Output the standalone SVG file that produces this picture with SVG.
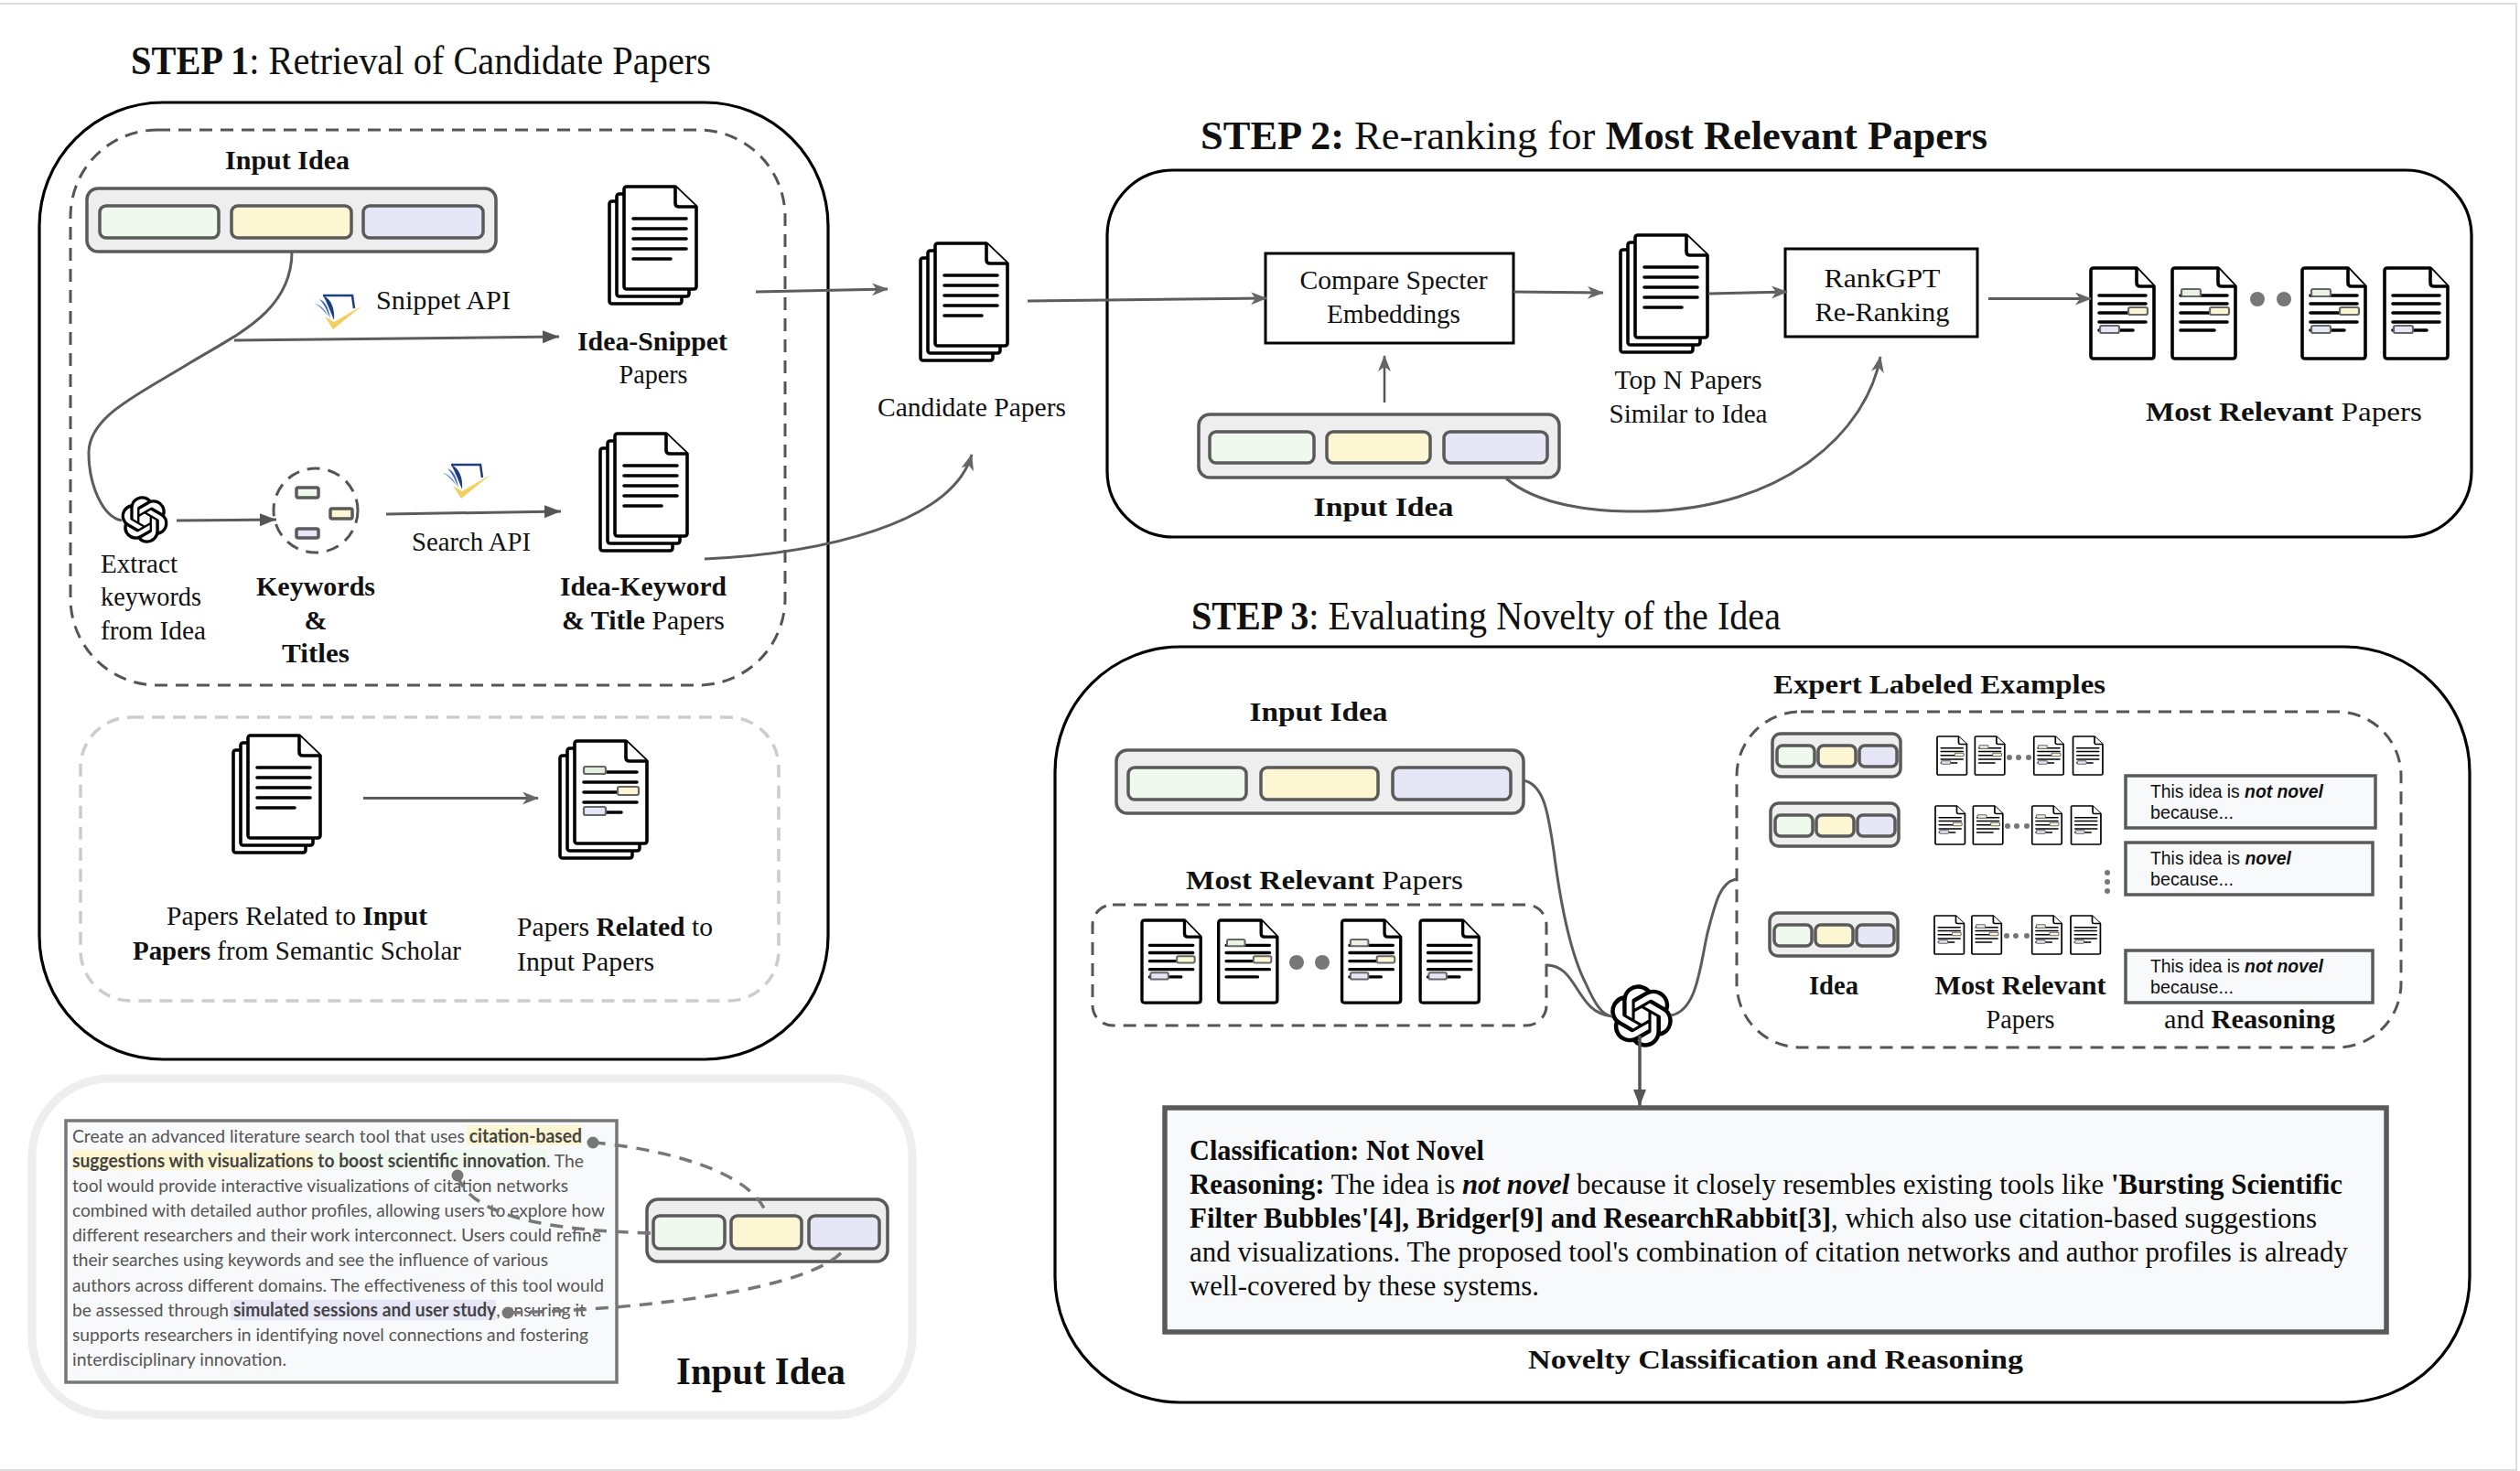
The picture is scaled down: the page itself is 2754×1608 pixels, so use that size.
<svg xmlns="http://www.w3.org/2000/svg" width="2754" height="1608" viewBox="0 0 2754 1608">
<style>
text{font-family:"Liberation Serif","Times New Roman",serif;fill:#111}
.l{font-size:30px}
.b{font-weight:bold}
.h{font-size:44px}
.t{font-size:31px;fill:#0c0c0c}
.sans{font-family:"Liberation Sans",Arial,sans-serif;font-size:19.5px;fill:#111}
.lato{font-family:Lato,"Open Sans",sans-serif;font-size:20px;fill:#555}
.lato .k{font-weight:bold;fill:#444}
.panel{fill:#fff;stroke:#000;stroke-width:3.2}
.dash{fill:none;stroke:#555;stroke-width:3;stroke-dasharray:14 9}
.dashl{fill:none;stroke:#ccc;stroke-width:3.5;stroke-dasharray:14 9}
.bar{fill:#eee;stroke:#5a5a5a;stroke-width:3.5}
.g{fill:#f0f9ee;stroke:#5a5a5a;stroke-width:3.5}
.y{fill:#fcf6d2;stroke:#5a5a5a;stroke-width:3.5}
.v{fill:#e6e6f7;stroke:#5a5a5a;stroke-width:3.5}
.box{fill:#fff;stroke:#000;stroke-width:3}
.note{fill:#f8f9fa;stroke:#5a5a5a;stroke-width:3.5}
.page{fill:#fff;stroke:#000;stroke-width:3.6;stroke-linejoin:round}
.ln{stroke:#000;stroke-width:3.6;stroke-linecap:round;fill:none}
.tag{stroke:#666;stroke-width:2.2}
.dot{fill:#777}
.c{fill:none;stroke:#5c5c5c;stroke-width:3}
.c2{fill:none;stroke:#555;stroke-width:2.5}
.cd{fill:none;stroke:#777;stroke-width:3.5;stroke-dasharray:14 10}
</style>
<defs>
<marker id="tri" markerUnits="userSpaceOnUse" markerWidth="20" markerHeight="16" refX="18" refY="7" orient="auto"><path d="M0 0L18 7L0 14Z" fill="#555"/></marker>
<marker id="st" markerUnits="userSpaceOnUse" markerWidth="20" markerHeight="16" refX="17" refY="7" orient="auto"><path d="M0 0L18 7L0 14L5 7Z" fill="#666"/></marker>
<g id="sheet"><path class="page" d="M3 0H56L79 22V109Q79 112 76 112H3Q0 112 0 109V3Q0 0 3 0Z"/><path class="page" fill="none" d="M56 0V18Q56 22 60 22H79"/></g>
<g id="lines"><path class="ln" d="M10 35H68M10 46H68M10 57H68M10 68H68M10 79H51"/></g>
<g id="stack-back"><use href="#sheet" x="-16" y="16"/><use href="#sheet" x="-8" y="8"/><use href="#sheet"/></g>
<g id="stack"><use href="#stack-back"/><use href="#lines"/></g>
<g id="stack-tagged"><use href="#stack-back"/><path class="ln" d="M34 34H68M10 45H68M10 56H47M10 67H68M34 78H51"/>
<rect class="tag" x="10" y="28" width="24" height="8" rx="2" fill="#e2efdc"/><rect class="tag" x="47" y="50" width="23" height="9" rx="2" fill="#fcf6d2"/><rect class="tag" x="10" y="72" width="24" height="9" rx="2" fill="#e6e6f7"/></g>
<g id="one"><path class="page" d="M3 0H50L69 20V96Q69 99 66 99H3Q0 99 0 96V3Q0 0 3 0Z"/><path class="page" fill="none" d="M50 0V16Q50 20 54 20H69"/></g>
<rect id="tg" class="tag" x="10" y="-4" width="21" height="8" rx="2" fill="#e8f3e2"/>
<rect id="ty" class="tag" x="41" y="-4" width="21" height="8" rx="2" fill="#fcf6d2"/>
<rect id="tv" class="tag" x="10" y="-4" width="21" height="8" rx="2" fill="#e6e6f7"/>
<g id="docA"><use href="#one"/><path class="ln" d="M9 30H60M9 39H60M9 49H42M9 59H60M9 68H46"/><use href="#ty" y="47"/><use href="#tv" y="67"/></g>
<g id="docB"><use href="#one"/><path class="ln" d="M9 30H60M9 39H60M9 49H42M9 59H60M9 68H46"/><use href="#tg" y="27"/><use href="#ty" y="47"/></g>
<g id="docC"><use href="#one"/><path class="ln" d="M9 30H60M9 39H60M9 49H42M9 59H60M9 68H46"/><use href="#tg" y="27"/><use href="#ty" y="47"/><use href="#tv" y="67"/></g>
<g id="docD"><use href="#one"/><path class="ln" d="M9 30H60M9 39H60M9 49H60M9 59H60M9 68H46"/><use href="#tv" y="67"/></g>
<g id="minibar"><rect class="bar" x="0" y="0" width="140" height="47" rx="9"/><rect class="g" x="5" y="13" width="41" height="23" rx="6"/><rect class="y" x="50" y="13" width="41" height="23" rx="6"/><rect class="v" x="95" y="13" width="41" height="23" rx="6"/></g>
<path id="gpt" transform="translate(-12 -12)" fill="#000" d="M22.2819 9.8211a5.9847 5.9847 0 0 0-.5157-4.9108 6.0462 6.0462 0 0 0-6.5098-2.9A6.0651 6.0651 0 0 0 4.9807 4.1818a5.9847 5.9847 0 0 0-3.9977 2.9 6.0462 6.0462 0 0 0 .7427 7.0966 5.98 5.98 0 0 0 .511 4.9107 6.051 6.051 0 0 0 6.5146 2.9001A5.9847 5.9847 0 0 0 13.2599 24a6.0557 6.0557 0 0 0 5.7718-4.2058 5.9894 5.9894 0 0 0 3.9977-2.9001 6.0557 6.0557 0 0 0-.7475-7.0729zm-9.022 12.6081a4.4755 4.4755 0 0 1-2.8764-1.0408l.1419-.0804 4.7783-2.7582a.7948.7948 0 0 0 .3927-.6813v-6.7369l2.02 1.1686a.071.071 0 0 1 .038.052v5.5826a4.504 4.504 0 0 1-4.4945 4.4944zm-9.6607-4.1254a4.4708 4.4708 0 0 1-.5346-3.0137l.142.0852 4.783 2.7582a.7712.7712 0 0 0 .7806 0l5.8428-3.3685v2.3324a.0804.0804 0 0 1-.0332.0615L9.74 19.9502a4.4992 4.4992 0 0 1-6.1408-1.6464zM2.3408 7.8956a4.485 4.485 0 0 1 2.3655-1.9728V11.6a.7664.7664 0 0 0 .3879.6765l5.8144 3.3543-2.0201 1.1685a.0757.0757 0 0 1-.071 0l-4.8303-2.7865A4.504 4.504 0 0 1 2.3408 7.872zm16.5963 3.8558L13.1038 8.364 15.1192 7.2a.0757.0757 0 0 1 .071 0l4.8303 2.7913a4.4944 4.4944 0 0 1-.6765 8.1042v-5.6772a.79.79 0 0 0-.407-.667zm2.0107-3.0231l-.142-.0852-4.7735-2.7818a.7759.7759 0 0 0-.7854 0L9.409 9.2297V6.8974a.0662.0662 0 0 1 .0284-.0615l4.8303-2.7866a4.4992 4.4992 0 0 1 6.6802 4.66zM8.3065 12.863l-2.02-1.1638a.0804.0804 0 0 1-.038-.0567V6.0742a4.4992 4.4992 0 0 1 7.3757-3.4537l-.142.0805L8.704 5.459a.7948.7948 0 0 0-.3927.6813zm1.0976-2.3654l2.602-1.4998 2.6069 1.4998v2.9994l-2.5974 1.4997-2.6067-1.4997Z"/>
<g id="s2"><path d="M12 24L21 38L53 12L22 30Z" fill="#f2cf5e"/><path d="M10 1H42L44 15" fill="none" stroke="#1d3f7f" stroke-width="2.5"/><path d="M10 1C19 5 23 15 22 28C18 18 14 8 10 1Z" fill="#1d3f7f"/><path d="M6 5C12 7 16 14 18 26C14 17 11 10 6 5Z" fill="#3a6cc4"/><path d="M1 10C7 11 12 16 16 24C11 18 7 13 1 10Z" fill="#5b8fe0"/></g>
</defs>
<rect width="2754" height="1608" fill="#fff"/>
<path d="M0 4H2750V1607H0" fill="none" stroke="#ddd" stroke-width="2"/>

<g id="step1">
<text class="h" x="143" y="81" textLength="634" lengthAdjust="spacingAndGlyphs"><tspan class="b">STEP 1</tspan>: Retrieval of Candidate Papers</text>
<rect class="panel" x="43" y="112" width="862" height="1046" rx="135"/>
<rect class="dash" x="77" y="142" width="781" height="607" rx="95"/>
<rect class="dashl" x="88" y="784" width="763" height="310" rx="55"/>
</g>
<g id="step1-input-idea">
<text class="l b" x="314" y="185" text-anchor="middle" textLength="136" lengthAdjust="spacingAndGlyphs">Input Idea</text>
<rect class="bar" x="95" y="206" width="447" height="69" rx="12"/>
<rect class="g" x="109" y="225" width="130" height="35" rx="7"/><rect class="y" x="253" y="225" width="131" height="35" rx="7"/><rect class="v" x="397" y="225" width="131" height="35" rx="7"/>
</g>
<g id="snippet-api">
<use href="#s2" x="343" y="322"/>
<text class="l" x="411" y="338" textLength="147" lengthAdjust="spacingAndGlyphs">Snippet API</text>
</g>
<g id="idea-snippet-papers">
<use href="#stack" x="682" y="204"/>
<text class="l b" x="713" y="383" text-anchor="middle" textLength="164" lengthAdjust="spacingAndGlyphs">Idea-Snippet</text>
<text class="l" x="714" y="419" text-anchor="middle" textLength="75" lengthAdjust="spacingAndGlyphs">Papers</text>
</g>
<g id="extract-keywords">
<use href="#gpt" transform="translate(158 568) scale(2.15)"/>
<text class="l" x="110" y="626" textLength="84" lengthAdjust="spacingAndGlyphs">Extract</text>
<text class="l" x="110" y="662" textLength="110" lengthAdjust="spacingAndGlyphs">keywords</text>
<text class="l" x="110" y="699" textLength="115" lengthAdjust="spacingAndGlyphs">from Idea</text>
</g>
<g id="keywords-titles">
<circle cx="345" cy="558" r="46" class="dash"/>
<rect class="g" x="324" y="533" width="24" height="11" rx="2"/><rect class="y" x="361" y="556" width="24" height="11" rx="2"/><rect class="v" x="324" y="578" width="24" height="10" rx="2"/>
<text class="l b" x="345" y="651" text-anchor="middle" textLength="130" lengthAdjust="spacingAndGlyphs">Keywords</text>
<text class="l b" x="345" y="688" text-anchor="middle">&amp;</text>
<text class="l b" x="345" y="724" text-anchor="middle" textLength="74" lengthAdjust="spacingAndGlyphs">Titles</text>
</g>
<g id="search-api">
<use href="#s2" x="483" y="507"/>
<text class="l" x="450" y="602" textLength="130" lengthAdjust="spacingAndGlyphs">Search API</text>
</g>
<g id="idea-keyword-papers">
<use href="#stack" x="672" y="474"/>
<text class="l b" x="703" y="651" text-anchor="middle" textLength="182" lengthAdjust="spacingAndGlyphs">Idea-Keyword</text>
<text class="l" x="614" y="688" textLength="178" lengthAdjust="spacingAndGlyphs"><tspan class="b">&amp; Title</tspan> Papers</text>
</g>
<g id="related-papers">
<use href="#stack" x="271" y="804"/>
<text class="l" x="182" y="1011" textLength="285" lengthAdjust="spacingAndGlyphs">Papers Related to <tspan class="b">Input</tspan></text>
<text class="l" x="145" y="1049" textLength="359" lengthAdjust="spacingAndGlyphs"><tspan class="b">Papers</tspan> from Semantic Scholar</text>
</g>
<g id="papers-related">
<use href="#stack-tagged" x="628" y="810"/>
<text class="l" x="565" y="1023" textLength="214" lengthAdjust="spacingAndGlyphs">Papers <tspan class="b">Related</tspan> to</text>
<text class="l" x="565" y="1061" textLength="150" lengthAdjust="spacingAndGlyphs">Input Papers</text>
</g>

<g id="idea-panel">
<rect x="35" y="1179" width="962" height="368" rx="85" fill="#fff" stroke="#eee" stroke-width="9"/>
<rect x="72" y="1225" width="602" height="286" fill="#f8f9fa" stroke="#777" stroke-width="3.5"/>
<rect x="510" y="1230" width="126" height="22" fill="#fcf6d2"/><rect x="79" y="1257" width="265" height="22" fill="#fcf6d2"/><rect x="344" y="1257" width="254" height="22" fill="#f0f9ee"/><rect x="252" y="1421" width="290" height="22" fill="#e6e6f7"/>
<text class="lato" x="79" y="1249" textLength="557" lengthAdjust="spacingAndGlyphs">Create an advanced literature search tool that uses <tspan class="k">citation-based</tspan></text>
<text class="lato" x="79" y="1276" textLength="559" lengthAdjust="spacingAndGlyphs"><tspan class="k">suggestions with visualizations to boost scientific innovation</tspan>. The</text>
<text class="lato" x="79" y="1303" textLength="542" lengthAdjust="spacingAndGlyphs">tool would provide interactive visualizations of citation networks</text>
<text class="lato" x="79" y="1330" textLength="582" lengthAdjust="spacingAndGlyphs">combined with detailed author profiles, allowing users to explore how</text>
<text class="lato" x="79" y="1357" textLength="578" lengthAdjust="spacingAndGlyphs">different researchers and their work interconnect. Users could refine</text>
<text class="lato" x="79" y="1384" textLength="520" lengthAdjust="spacingAndGlyphs">their searches using keywords and see the influence of various</text>
<text class="lato" x="79" y="1412" textLength="581" lengthAdjust="spacingAndGlyphs">authors across different domains. The effectiveness of this tool would</text>
<text class="lato" x="79" y="1439" textLength="561" lengthAdjust="spacingAndGlyphs">be assessed through <tspan class="k">simulated sessions and user study</tspan>, ensuring it</text>
<text class="lato" x="79" y="1466" textLength="564" lengthAdjust="spacingAndGlyphs">supports researchers in identifying novel connections and fostering</text>
<text class="lato" x="79" y="1493" textLength="234" lengthAdjust="spacingAndGlyphs">interdisciplinary innovation.</text>
<rect class="bar" x="707" y="1311" width="263" height="68" rx="12"/>
<rect class="g" x="714" y="1329" width="78" height="36" rx="7"/><rect class="y" x="799" y="1329" width="77" height="36" rx="7"/><rect class="v" x="884" y="1329" width="77" height="36" rx="7"/>
<text class="b" font-size="43" x="739" y="1513" textLength="185" lengthAdjust="spacingAndGlyphs">Input Idea</text>
</g>

<g id="candidate-papers">
<use href="#stack" x="1022" y="266"/>
<text class="l" x="959" y="455" textLength="206" lengthAdjust="spacingAndGlyphs">Candidate Papers</text>
</g>

<g id="step2">
<text class="h" x="1312" y="163" textLength="860" lengthAdjust="spacingAndGlyphs"><tspan class="b">STEP 2:</tspan> Re-ranking for <tspan class="b">Most Relevant Papers</tspan></text>
<rect class="panel" x="1210" y="186" width="1491" height="401" rx="72"/>
</g>
<g id="compare-specter">
<rect class="box" x="1383" y="277" width="271" height="98"/>
<text class="l" x="1523" y="316" text-anchor="middle" textLength="205" lengthAdjust="spacingAndGlyphs">Compare Specter</text>
<text class="l" x="1523" y="353" text-anchor="middle" textLength="146" lengthAdjust="spacingAndGlyphs">Embeddings</text>
</g>
<g id="top-n">
<use href="#stack" x="1787" y="257"/>
<text class="l" x="1845" y="425" text-anchor="middle" textLength="161" lengthAdjust="spacingAndGlyphs">Top N Papers</text>
<text class="l" x="1845" y="462" text-anchor="middle" textLength="173" lengthAdjust="spacingAndGlyphs">Similar to Idea</text>
</g>
<g id="rankgpt">
<rect class="box" x="1951" y="272" width="210" height="96"/>
<text class="l" x="2057" y="314" text-anchor="middle" textLength="127" lengthAdjust="spacingAndGlyphs">RankGPT</text>
<text class="l" x="2057" y="351" text-anchor="middle" textLength="147" lengthAdjust="spacingAndGlyphs">Re-Ranking</text>
</g>
<g id="step2-most-relevant">
<use href="#docA" x="2285" y="293"/><use href="#docB" x="2374" y="293"/><use href="#docC" x="2516" y="293"/><use href="#docD" x="2606" y="293"/>
<circle class="dot" cx="2467" cy="327" r="8"/><circle class="dot" cx="2496" cy="327" r="8"/>
<text class="l" x="2345" y="460" textLength="302" lengthAdjust="spacingAndGlyphs"><tspan class="b">Most Relevant</tspan> Papers</text>
</g>
<g id="step2-input-idea">
<rect class="bar" x="1310" y="453" width="394" height="69" rx="12"/>
<rect class="g" x="1322" y="472" width="114" height="34" rx="7"/><rect class="y" x="1450" y="472" width="113" height="34" rx="7"/><rect class="v" x="1578" y="472" width="113" height="34" rx="7"/>
<text class="l b" x="1512" y="564" text-anchor="middle" textLength="153" lengthAdjust="spacingAndGlyphs">Input Idea</text>
</g>

<g id="step3">
<text class="h" x="1302" y="688" textLength="644" lengthAdjust="spacingAndGlyphs"><tspan class="b">STEP 3</tspan>: Evaluating Novelty of the Idea</text>
<rect class="panel" x="1153" y="707" width="1546" height="826" rx="137"/>
</g>
<g id="step3-input-idea">
<text class="l b" x="1441" y="788" text-anchor="middle" textLength="151" lengthAdjust="spacingAndGlyphs">Input Idea</text>
<rect class="bar" x="1220" y="820" width="445" height="69" rx="12"/>
<rect class="g" x="1233" y="839" width="129" height="35" rx="7"/><rect class="y" x="1378" y="839" width="128" height="35" rx="7"/><rect class="v" x="1522" y="839" width="129" height="35" rx="7"/>
</g>
<g id="step3-most-relevant">
<text class="l" x="1296" y="972" textLength="303" lengthAdjust="spacingAndGlyphs"><tspan class="b">Most Relevant</tspan> Papers</text>
<rect class="dash" x="1194" y="989" width="496" height="132" rx="22"/>
<g transform="translate(1248 1006) scale(.93 .91)"><use href="#docA"/><use href="#docB" x="90"/><use href="#docC" x="235"/><use href="#docD" x="327"/></g>
<circle class="dot" cx="1417" cy="1052" r="8"/><circle class="dot" cx="1445" cy="1052" r="8"/>
</g>
<g id="expert-labeled-examples">
<text class="l b" x="1938" y="758" textLength="363" lengthAdjust="spacingAndGlyphs">Expert Labeled Examples</text>
<rect class="dash" x="1898" y="778" width="726" height="367" rx="70"/>
<use href="#minibar" x="1937" y="802"/><use href="#minibar" x="1935" y="878"/><use href="#minibar" x="1934" y="998"/>
<g transform="translate(2117 805) scale(.47 .425)"><use href="#docA"/><use href="#docB" x="88"/><use href="#docC" x="225"/><use href="#docD" x="316"/></g>
<g transform="translate(2115 881) scale(.47 .425)"><use href="#docA"/><use href="#docB" x="88"/><use href="#docC" x="225"/><use href="#docD" x="316"/></g>
<g transform="translate(2114 1001) scale(.47 .425)"><use href="#docA"/><use href="#docB" x="87"/><use href="#docC" x="227"/><use href="#docD" x="317"/></g>
<g class="dot"><circle cx="2196" cy="828" r="3"/><circle cx="2206" cy="828" r="3"/><circle cx="2217" cy="828" r="3"/><circle cx="2194" cy="903" r="3"/><circle cx="2204" cy="903" r="3"/><circle cx="2215" cy="903" r="3"/><circle cx="2193" cy="1023" r="3"/><circle cx="2203" cy="1023" r="3"/><circle cx="2215" cy="1023" r="3"/><circle cx="2303" cy="954" r="3"/><circle cx="2303" cy="964" r="3"/><circle cx="2303" cy="974" r="3"/></g>
<rect class="note" x="2323" y="848" width="273" height="57"/><rect class="note" x="2323" y="921" width="270" height="57"/><rect class="note" x="2323" y="1039" width="270" height="57"/>
<text class="sans" x="2350" y="872" textLength="189" lengthAdjust="spacingAndGlyphs">This idea is <tspan font-weight="bold" font-style="italic">not novel</tspan></text>
<text class="sans" x="2350" y="895" textLength="91" lengthAdjust="spacingAndGlyphs">because...</text>
<text class="sans" x="2350" y="945" textLength="154" lengthAdjust="spacingAndGlyphs">This idea is <tspan font-weight="bold" font-style="italic">novel</tspan></text>
<text class="sans" x="2350" y="968" textLength="91" lengthAdjust="spacingAndGlyphs">because...</text>
<text class="sans" x="2350" y="1063" textLength="189" lengthAdjust="spacingAndGlyphs">This idea is <tspan font-weight="bold" font-style="italic">not novel</tspan></text>
<text class="sans" x="2350" y="1086" textLength="91" lengthAdjust="spacingAndGlyphs">because...</text>
<text class="l b" x="2004" y="1087" text-anchor="middle" textLength="54" lengthAdjust="spacingAndGlyphs">Idea</text>
<text class="l b" x="2208" y="1087" text-anchor="middle" textLength="187" lengthAdjust="spacingAndGlyphs">Most Relevant</text>
<text class="l" x="2208" y="1124" text-anchor="middle" textLength="75" lengthAdjust="spacingAndGlyphs">Papers</text>
<text class="l" x="2365" y="1124" textLength="187" lengthAdjust="spacingAndGlyphs">and <tspan class="b">Reasoning</tspan></text>
</g>
<g id="llm-step3"><use href="#gpt" transform="translate(1794 1110.5) scale(2.85)"/></g>
<g id="novelty-classification">
<rect x="1273" y="1211" width="1335" height="245" fill="#f8f9fa" stroke="#5a5a5a" stroke-width="5.5"/>
<text class="t b" x="1300" y="1268" textLength="322" lengthAdjust="spacingAndGlyphs">Classification: Not Novel</text>
<text class="t" x="1300" y="1305" textLength="1260" lengthAdjust="spacingAndGlyphs"><tspan class="b">Reasoning:</tspan> The idea is <tspan class="b" font-style="italic">not novel</tspan> because it closely resembles existing tools like <tspan class="b">'Bursting Scientific</tspan></text>
<text class="t" x="1300" y="1342" textLength="1232" lengthAdjust="spacingAndGlyphs"><tspan class="b">Filter Bubbles'[4], Bridger[9] and ResearchRabbit[3]</tspan>, which also use citation-based suggestions</text>
<text class="t" x="1300" y="1379" textLength="1266" lengthAdjust="spacingAndGlyphs">and visualizations. The proposed tool's combination of citation networks and author profiles is already</text>
<text class="t" x="1300" y="1416" textLength="382" lengthAdjust="spacingAndGlyphs">well-covered by these systems.</text>
<text class="l b" x="1670" y="1496" textLength="541" lengthAdjust="spacingAndGlyphs">Novelty Classification and Reasoning</text>
</g>

<g id="connectors">
<path class="c" d="M319 275C319 340 260 365 207 397C150 432 97 455 97 495C97 530 112 565 133 569"/>
<path class="c" marker-end="url(#tri)" d="M256 372L611 368"/>
<path class="c" marker-end="url(#tri)" d="M193 569L302 568"/>
<path class="c" marker-end="url(#tri)" d="M422 562L613 559"/>
<path class="c" marker-end="url(#st)" d="M397 872.5H588"/>
<path class="c" marker-end="url(#st)" d="M826 319L970 316"/>
<path class="c" marker-end="url(#st)" d="M770 611C900 605 1040 572 1062 497"/>
<path class="c" marker-end="url(#st)" d="M1123 329L1384 326"/>
<path class="c" marker-end="url(#st)" d="M1654 319L1752 320"/>
<path class="c" marker-end="url(#st)" d="M1867 321L1953 319"/>
<path class="c" marker-end="url(#st)" d="M2173 326.5L2285 326.5"/>
<path class="c2" marker-end="url(#st)" d="M1513 440V389"/>
<path class="c" marker-end="url(#st)" d="M1646 523C1680 552 1740 560 1796 559C1950 557 2040 472 2055 390"/>
<path class="c" d="M1665 853C1688 858 1692 890 1698 930C1705 985 1715 1040 1733 1075C1742 1095 1750 1110 1762 1111"/>
<path class="c" d="M1690 1055C1725 1055 1722 1108 1762 1111"/>
<path class="c" d="M1826 1110C1855 1105 1858 1055 1866 1020C1875 985 1880 965 1897 961"/>
<path fill="none" stroke="#555" stroke-width="3.5" marker-end="url(#tri)" d="M1792 1132V1209"/>
<path class="cd" d="M648 1249C720 1255 825 1280 838 1329"/>
<path class="cd" d="M500 1285C515 1330 600 1345 712 1348"/>
<path class="cd" d="M555 1435C700 1432 890 1410 923 1365"/>
<circle class="dot" cx="648" cy="1249" r="6.5"/><circle class="dot" cx="500" cy="1285" r="6.5"/><circle class="dot" cx="555" cy="1435" r="6.5"/>
</g>
</svg>
